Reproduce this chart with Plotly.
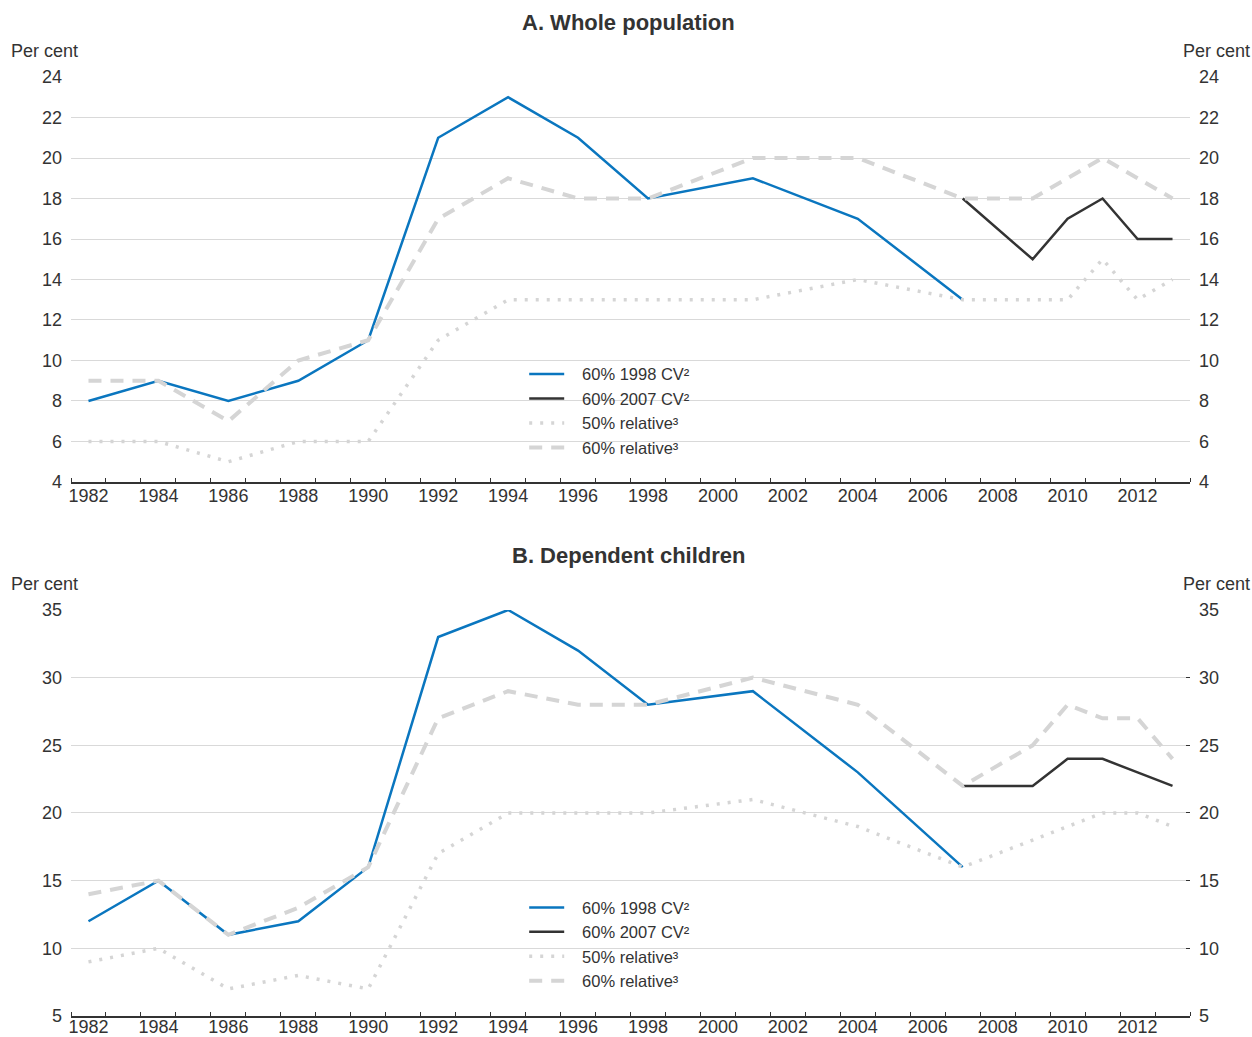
import plotly.graph_objects as go

# Survey years and poverty rates (per cent)
years = [1982, 1984, 1986, 1988, 1990, 1992, 1994, 1996, 1998, 2001, 2004, 2007,
         2009, 2010, 2011, 2012, 2013]
years_cv1998 = years[:12]
years_cv2007 = years[11:]

# A. Whole population
a_cv1998 = [8, 9, 8, 9, 11, 21, 23, 21, 18, 19, 17, 13]
a_cv2007 = [18, 15, 17, 18, 16, 16]
a_rel50 = [6, 6, 5, 6, 6, 11, 13, 13, 13, 13, 14, 13, 13, 13, 15, 13, 14]
a_rel60 = [9, 9, 7, 10, 11, 17, 19, 18, 18, 20, 20, 18, 18, 19, 20, 19, 18]

# B. Dependent children
b_cv1998 = [12, 15, 11, 12, 16, 33, 35, 32, 28, 29, 23, 16]
b_cv2007 = [22, 22, 24, 24, 23, 22]
b_rel50 = [9, 10, 7, 8, 7, 17, 20, 20, 20, 21, 19, 16, 18, 19, 20, 20, 19]
b_rel60 = [14, 15, 11, 13, 16, 27, 29, 28, 28, 30, 28, 22, 25, 28, 27, 27, 24]

series_names = ["60% 1998 CV²", "60% 2007 CV²", "50% relative³", "60% relative³"]
tick_years = list(range(1982, 2013, 2))

BLUE = "#0a76bf"
DARK = "#333333"
LIGHT = "#d5d5d5"
FONT = "Liberation Sans, Arial, sans-serif"
PAD = "\u2002\u00a0"  # gap between legend key and label

styles = [
    dict(color=BLUE, width=2.5),
    dict(color=DARK, width=2.5),
    dict(color=LIGHT, width=3.5, dash="3px,8px"),
    dict(color=LIGHT, width=4, dash="13px,9px"),
]

fig = go.Figure()

# constant-value lines on the left axis, relative lines on the right axis
# (same scale), so the grey relative lines sit on top
panels = [
    ("x", "y", "y3", "legend", a_cv1998, a_cv2007, a_rel50, a_rel60),
    ("x2", "y2", "y4", "legend2", b_cv1998, b_cv2007, b_rel50, b_rel60),
]

for xa, ya, ya_r, lg, cv98, cv07, r50, r60 in panels:
    data = [(years_cv1998, cv98, ya), (years_cv2007, cv07, ya),
            (years, r50, ya_r), (years, r60, ya_r)]
    for i, (xs, ys, yax) in enumerate(data):
        fig.add_trace(go.Scatter(
            x=xs, y=ys, mode="lines", name=PAD + series_names[i],
            line=styles[i], xaxis=xa, yaxis=yax, legend=lg,
            legendrank=i + 1, hoverinfo="skip",
        ))

minor_vals = [1981.5 + k for k in range(33)]


def x_axis(anchor, standoff):
    return dict(
        range=[1981.5, 2013.5], tickmode="array", tickvals=tick_years,
        ticktext=[str(y) for y in tick_years], ticks="", showgrid=False,
        zeroline=False, showline=True, linecolor=DARK, linewidth=1.5,
        anchor=anchor, domain=[0, 1], ticklabelstandoff=standoff,
        tickfont=dict(family=FONT, size=18, color=DARK),
        minor=dict(tickmode="array", tickvals=minor_vals, ticks="inside",
                   ticklen=4, tickwidth=1, tickcolor=DARK, showgrid=False),
        fixedrange=True,
    )


def y_axis(rng, dtick, domain, anchor, side="left", overlay=None, ticks=""):
    d = dict(
        range=rng, dtick=dtick, tick0=rng[0], domain=domain, anchor=anchor,
        side=side, showgrid=overlay is None, gridcolor="#d9d9d9", gridwidth=1,
        zeroline=False, showline=False, ticks=ticks, ticklen=4,
        tickcolor=DARK, tickfont=dict(family=FONT, size=18, color=DARK),
        ticklabelstandoff=8, fixedrange=True,
    )
    if overlay:
        d["overlaying"] = overlay
    return d


top_dom = [0.5687, 1.0]
bot_dom = [0.0, 0.4324]

legend_style = dict(xanchor="left", yanchor="top", bgcolor="rgba(0,0,0,0)",
                    font=dict(family=FONT, size=16.5, color=DARK),
                    itemwidth=35, tracegroupgap=0)

fig.update_layout(
    width=1252, height=1037,
    margin=dict(l=71, r=62, t=77, b=21, autoexpand=False),
    paper_bgcolor="white", plot_bgcolor="white",
    font=dict(family=FONT, color=DARK),
    xaxis=x_axis("y", -3),
    xaxis2=x_axis("y2", -6),
    yaxis=y_axis([4, 24], 2, top_dom, "x"),
    yaxis2=y_axis([5, 35], 5, bot_dom, "x2"),
    yaxis3=y_axis([4, 24], 2, top_dom, "x", side="right", overlay="y"),
    yaxis4=y_axis([5, 35], 5, bot_dom, "x2", side="right", overlay="y2",
                  ticks="inside"),
    legend=dict(x=0.405, y=0.702, **legend_style),
    legend2=dict(x=0.405, y=0.134, **legend_style),
    showlegend=True,
)

titles = [("A. Whole population", 22), ("B. Dependent children", 555)]
for text, ypix in titles:
    fig.add_annotation(text=f"<b>{text}</b>", xref="paper", yref="paper",
                       x=(628 - 71) / 1119, y=(1016 - ypix) / 939,
                       showarrow=False, xanchor="center", yanchor="middle",
                       font=dict(family=FONT, size=22, color=DARK))

for ypix in (51, 584):
    yv = (1016 - ypix) / 939
    fig.add_annotation(text="Per cent", xref="paper", yref="paper",
                       x=(9 - 71) / 1119, y=yv, showarrow=False,
                       xanchor="left", yanchor="middle",
                       font=dict(family=FONT, size=18, color=DARK))
    fig.add_annotation(text="Per cent", xref="paper", yref="paper",
                       x=(1252 - 71) / 1119, y=yv, showarrow=False,
                       xanchor="right", yanchor="middle",
                       font=dict(family=FONT, size=18, color=DARK))

fig.write_html("out.html", config={"displayModeBar": False})
